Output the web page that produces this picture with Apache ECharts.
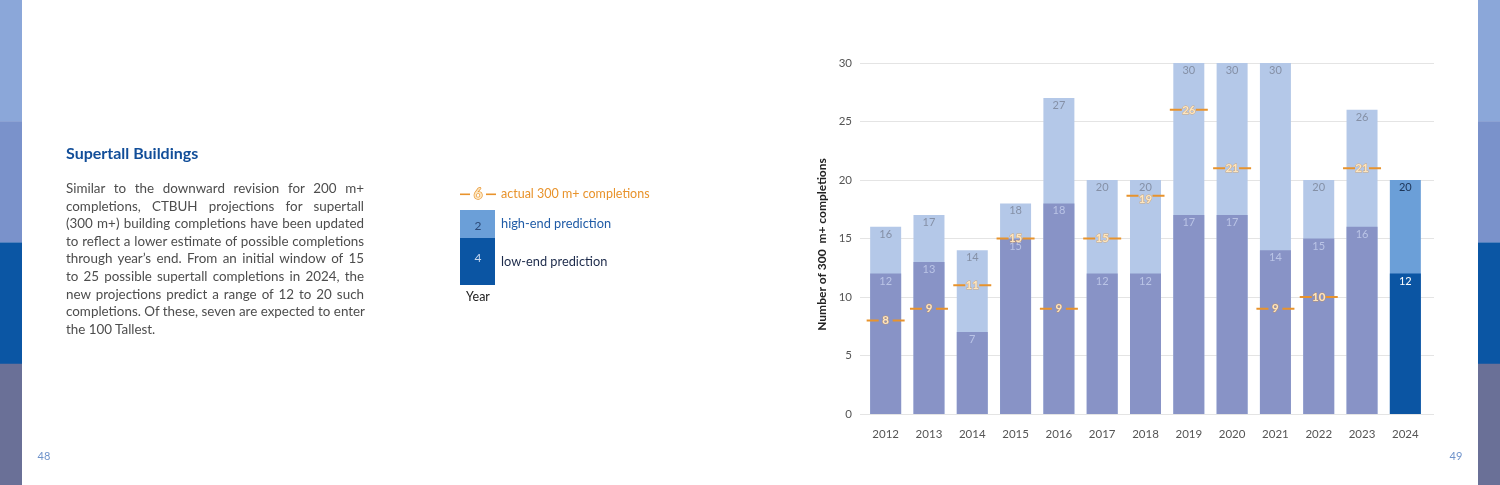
<!DOCTYPE html>
<html>
<head>
<meta charset="utf-8">
<script src="https://cdn.jsdelivr.net/npm/echarts@6/dist/echarts.min.js"></script>
<style>
  body { margin: 0; background: #fff; }
  #page { position: relative; width: 1500px; height: 485px; overflow: hidden; }
  #chart { position: absolute; left: 0; top: 0; width: 1500px; height: 485px; }
  #para {
    position: absolute; left: 66px; top: 180px; width: 298px;
    font-family: Lato, "Open Sans", sans-serif; font-size: 13.4px; line-height: 17.6px;
    color: #4d4d4d;
  }
  #para div { text-align: justify; text-align-last: justify; white-space: nowrap; }
  #para div.last { text-align-last: left; }
</style>
</head>
<body>
<div id="page">
  <div id="chart"></div>
  <div id="para">
    <div>Similar to the downward revision for 200 m+</div>
    <div>completions, CTBUH projections for supertall</div>
    <div>(300 m+) building completions have been updated</div>
    <div>to reflect a lower estimate of possible completions</div>
    <div>through year’s end. From an initial window of 15</div>
    <div>to 25 possible supertall completions in 2024, the</div>
    <div>new projections predict a range of 12 to 20 such</div>
    <div>completions. Of these, seven are expected to enter</div>
    <div class="last">the 100 Tallest.</div>
  </div>
</div>
<script>
// data
var years = ["2012", "2013", "2014", "2015", "2016", "2017", "2018", "2019", "2020", "2021", "2022", "2023", "2024"];
var lowEnd = [12, 13, 7, 15, 18, 12, 12, 17, 17, 14, 15, 16, 12];
var highEnd = [16, 17, 14, 18, 27, 20, 20, 30, 30, 30, 20, 26, 20];
var actual = [8, 9, 11, 15, 9, 15, 19, 26, 21, 9, 10, 21, "-"];
var yMin = 0, yMax = 30, yStep = 5;
var projYear = "2024";

var font = "Lato, 'Open Sans', sans-serif";
var myChart = echarts.init(document.getElementById("chart"));

var strips = ["#8ba7d9", "#7a92cb", "#0b56a4", "#6a7097"];
var stripRects = [];
strips.forEach(function (c, i) {
  stripRects.push({ type: "rect", left: 0, top: i * 121.25, shape: { width: 22, height: 121.5 }, style: { fill: c } });
  stripRects.push({ type: "rect", left: 1478, top: i * 121.25, shape: { width: 22, height: 121.5 }, style: { fill: c } });
});

var orange = "#e8932c";

var option = {
  animation: false,
  textStyle: { fontFamily: font },
  grid: [
    { left: 860, right: 66, top: 63, bottom: 71 },
    { left: 864, right: 73, top: 63, bottom: 71 },
  ],
  xAxis: [
    { type: "value", gridIndex: 0, show: false, min: 0, max: 1 },
    {
      type: "category",
      gridIndex: 1,
      data: years,
      axisLine: { show: false },
      axisTick: { show: false },
      axisLabel: { color: "#555", fontSize: 11.5, margin: 14, fontFamily: font },
    },
  ],
  yAxis: [
    {
      type: "value",
      gridIndex: 0,
      min: yMin,
      max: yMax,
      interval: yStep,
      axisLine: { show: false },
      axisTick: { show: false },
      axisLabel: { color: "#555", fontSize: 11.5, margin: 8, fontFamily: font },
      splitLine: { lineStyle: { color: "#e4e4e4", width: 1 } },
      name: "Number of 300  m+ completions",
      nameLocation: "middle",
      nameGap: 32,
      nameTextStyle: { color: "#222", fontSize: 12, fontWeight: "bold", fontFamily: font, padding: [0, 12, 0, 0] },
    },
    { type: "value", gridIndex: 1, min: yMin, max: yMax, show: false },
  ],
  series: [
    {
      name: "high-end prediction",
      type: "bar",
      xAxisIndex: 1,
      yAxisIndex: 1,
      barWidth: 31,
      barGap: "-100%",
      z: 1,
      data: highEnd.map(function (v, i) {
        var p = years[i] === projYear;
        return {
          value: v,
          itemStyle: { color: p ? "#6b9fd8" : "#b4c8e8" },
          label: { color: p ? "#1d3557" : "#8590a6" },
        };
      }),
      label: { show: true, position: "insideTop", distance: 2, fontSize: 11, fontFamily: font },
    },
    {
      name: "low-end prediction",
      type: "bar",
      xAxisIndex: 1,
      yAxisIndex: 1,
      barWidth: 31,
      barGap: "-100%",
      z: 2,
      data: lowEnd.map(function (v, i) {
        var p = years[i] === projYear;
        return {
          value: v,
          itemStyle: { color: p ? "#0b55a3" : "#8893c6" },
          label: { color: p ? "#ffffff" : "#bac4e6" },
        };
      }),
      label: { show: true, position: "insideTop", distance: 2, fontSize: 11, fontFamily: font },
    },
    {
      name: "actual 300 m+ completions",
      type: "scatter",
      xAxisIndex: 1,
      yAxisIndex: 1,
      z: 5,
      symbol: "path://M0,0H12V2H0ZM26,0H38V2H26Z",
      symbolSize: [38, 2],
      itemStyle: { color: orange, opacity: 1 },
      // 2018 marker sits a little low in the original so it clears the "20" label
      data: actual.map(function (v, i) {
        return years[i] === "2018" ? { value: v, symbolOffset: [0, 4], label: { offset: [0, 4] } } : v;
      }),
      label: {
        show: true,
        position: "inside",
        formatter: "{c}",
        color: "#fde6c0",
        fontSize: 11.5,
        fontWeight: "bold",
        fontFamily: font,
        textBorderColor: "rgba(232,147,44,0.55)",
        textBorderWidth: 1,
      },
    },
  ],
  graphic: stripRects.concat([
    {
      type: "text", left: 66, top: 146,
      style: { text: "Supertall Buildings", fill: "#124e99", font: "bold 16px " + font },
    },
    // legend
    { type: "rect", left: 460, top: 193.5, shape: { width: 10, height: 1.6 }, style: { fill: orange } },
    { type: "rect", left: 486, top: 193.5, shape: { width: 10, height: 1.6 }, style: { fill: orange } },
    {
      type: "text", x: 478, y: 194,
      style: { text: "6", fill: "#fde6c0", stroke: orange, lineWidth: 1.3, font: "bold 15px " + font, align: "center", verticalAlign: "middle" },
    },
    {
      type: "text", x: 501, y: 194,
      style: { text: "actual 300 m+ completions", fill: orange, font: "12.5px " + font, verticalAlign: "middle" },
    },
    { type: "rect", left: 460, top: 210, shape: { width: 35, height: 28 }, style: { fill: "#6b9fd8" } },
    { type: "rect", left: 460, top: 238, shape: { width: 35, height: 47 }, style: { fill: "#0b55a3" } },
    {
      type: "text", x: 478, y: 226,
      style: { text: "2", fill: "#2c4a78", font: "12px " + font, align: "center", verticalAlign: "middle" },
    },
    {
      type: "text", x: 478, y: 258,
      style: { text: "4", fill: "#c9d9f0", font: "12px " + font, align: "center", verticalAlign: "middle" },
    },
    {
      type: "text", x: 501, y: 224,
      style: { text: "high-end prediction", fill: "#1f5ba6", font: "12.8px " + font, verticalAlign: "middle" },
    },
    {
      type: "text", x: 501, y: 262,
      style: { text: "low-end prediction", fill: "#1c2a4a", font: "12.8px " + font, verticalAlign: "middle" },
    },
    {
      type: "text", x: 478, y: 297,
      style: { text: "Year", fill: "#222", font: "12.5px " + font, align: "center", verticalAlign: "middle" },
    },
    // page numbers
    {
      type: "text", x: 44, y: 456,
      style: { text: "48", fill: "#6f93cb", font: "11px " + font, align: "center", verticalAlign: "middle" },
    },
    {
      type: "text", x: 1456, y: 456,
      style: { text: "49", fill: "#6f93cb", font: "11px " + font, align: "center", verticalAlign: "middle" },
    },
  ]),
};

option && myChart.setOption(option);
</script>
</body>
</html>
